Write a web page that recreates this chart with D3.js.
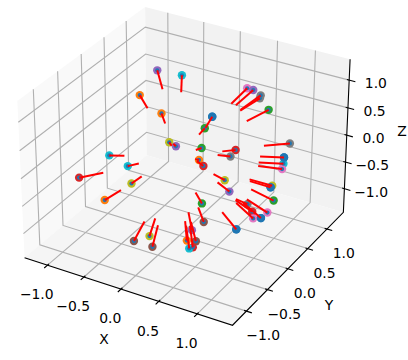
<!DOCTYPE html>
<html><head><meta charset="utf-8"><script src="https://cdn.jsdelivr.net/npm/d3@7"></script>
<style>body{margin:0;background:#fff}</style></head><body><div id="chart"></div>
<script>
// sphere points, with the inner end of each red segment
var xs=[-0.59,-0.32,-0.78,-0.04,-0.58,0.33,-0.15,0.49,-0.21,0.61,-0.11,0.40,0.47,0.57,0.57,0.71,1.07,1.07,1.09,1.10,0.23,0.84,0.24,0.93,1.07,1.06,1.15,1.14,0.83,0.98,1.10,1.02,0.90,-0.12,-0.69,0.73,0.38,-0.06,0.07,0.15,0.46,0.52,0.55,0.55,0.52,-0.42,-0.89,-0.54];
var ys=[0.50,0.61,0.41,-0.33,0.75,-0.64,1.04,-0.27,0.89,-0.61,0.76,0.89,0.91,0.91,0.89,0.85,0.71,0.57,0.52,0.47,0.94,-0.30,0.66,-0.48,0.29,0.27,0.18,0.05,0.14,-0.02,-0.03,-0.07,-0.25,-0.94,0.05,-0.75,-0.09,-0.93,-0.80,-0.87,-0.62,-0.61,-0.57,-0.64,-0.67,-0.85,-0.77,-0.78];
var zs=[1.03,0.97,0.57,0.99,-0.45,0.76,0.00,0.89,-0.51,0.61,-0.72,0.82,0.80,0.74,0.70,0.57,0.19,0.03,-0.04,-0.10,-0.41,0.55,-0.78,0.09,-0.29,-0.31,-0.45,-0.58,-0.62,-0.58,-0.64,-0.65,-0.77,0.44,-0.79,-0.01,-0.97,-0.89,-0.84,-0.95,-0.89,-0.68,-0.90,-0.96,-0.97,0.45,-0.19,-0.45];
var endX=[-0.46,-0.26,-0.54,-0.04,-0.44,0.19,-0.10,0.37,-0.17,0.47,-0.11,0.30,0.35,0.42,0.42,0.53,0.81,0.82,0.83,0.84,0.17,0.63,0.17,0.71,0.81,0.82,0.87,0.87,0.76,0.76,0.85,0.78,0.68,-0.11,-0.54,0.55,0.30,-0.05,0.04,0.10,0.35,0.40,0.41,0.42,0.38,-0.35,-0.68,-0.43];
var endY=[0.40,0.49,0.19,-0.25,0.57,-0.46,0.79,-0.19,0.68,-0.45,0.60,0.69,0.71,0.70,0.69,0.65,0.56,0.45,0.40,0.37,0.72,-0.22,0.51,-0.36,0.22,0.21,0.15,0.05,-0.01,-0.02,-0.00,-0.04,-0.19,-0.72,0.04,-0.58,-0.08,-0.71,-0.62,-0.66,-0.47,-0.48,-0.44,-0.48,-0.50,-0.64,-0.58,-0.60];
var endZ=[0.80,0.76,0.56,0.76,-0.34,0.63,-0.02,0.68,-0.39,0.46,-0.52,0.63,0.61,0.56,0.55,0.43,0.15,0.03,-0.04,-0.08,-0.31,0.44,-0.59,0.08,-0.23,-0.25,-0.34,-0.45,-0.45,-0.46,-0.49,-0.49,-0.59,0.34,-0.59,-0.01,-0.74,-0.69,-0.66,-0.73,-0.69,-0.50,-0.70,-0.74,-0.74,0.33,-0.15,-0.35];
// index into the tab10 cycle
var colorIndex=[4,9,1,1,8,4,0,2,2,1,3,6,4,7,7,2,7,0,9,6,3,7,8,4,8,0,2,6,7,3,0,6,0,9,8,2,5,5,8,5,1,4,5,3,9,9,3,1];
var tickValues=[-1,-0.5,0,0.5,1];
var tickLabels=["\u22121.0","\u22120.5","0.0","0.5","1.0"];

var xLim=[-1.32,1.45],yLim=[-1.32,1.44],zLim=[-1.45,1.37];
var boxW=1.1429,boxH=0.8572;
var cx=186.8,cy=158.8,pxScale=2085;
var azim=-60*Math.PI/180,elev=30*Math.PI/180;
var w=[Math.cos(elev)*Math.cos(azim),Math.cos(elev)*Math.sin(azim),Math.sin(elev)];
var u=[-Math.sin(azim),Math.cos(azim),0];
var v=[w[1]*u[2]-w[2]*u[1],w[2]*u[0]-w[0]*u[2],w[0]*u[1]-w[1]*u[0]];
var wx=d3.scaleLinear(xLim,[0,boxW]),wy=d3.scaleLinear(yLim,[0,boxW]),wz=d3.scaleLinear(zLim,[0,boxH]);
var sx=d3.scaleLinear([-0.1,0.1],[cx-pxScale/10,cx+pxScale/10]),sy=d3.scaleLinear([-0.1,0.1],[cy+pxScale/10,cy-pxScale/10]);
var color=d3.scaleOrdinal().domain(d3.range(10)).range(d3.schemeCategory10);
function dot(p,q){return p[0]*q[0]+p[1]*q[1]+p[2]*q[2]}
function proj(x,y,z){
  var d=[wx(x)-boxW/2-10*w[0],wy(y)-boxW/2-10*w[1],wz(z)-boxH/2-10*w[2]];
  var zv=-dot(d,w);
  return [sx(dot(d,u)/zv),sy(dot(d,v)/zv)];
}
var svg=d3.select("#chart").append("svg").attr("width",408).attr("height",360);
var line=d3.line();
function path3d(pts){return line(pts.map(function(p){return proj(p[0],p[1],p[2])}))}
function pane(pts,fill){svg.append("path").attr("d",path3d(pts)+"Z").attr("fill",fill)}
function seg(pts,col,lw){svg.append("path").attr("d",path3d(pts)).attr("fill","none").attr("stroke",col).attr("stroke-width",lw)}
var x0=xLim[0],x1=xLim[1],y0=yLim[0],y1=yLim[1],z0=zLim[0],z1=zLim[1];

// panes
pane([[x0,y0,z0],[x0,y1,z0],[x0,y1,z1],[x0,y0,z1]],"#f9f9f9");
pane([[x0,y1,z0],[x1,y1,z0],[x1,y1,z1],[x0,y1,z1]],"#f2f2f2");
pane([[x0,y0,z0],[x1,y0,z0],[x1,y1,z0],[x0,y1,z0]],"#f5f5f5");

// grid
tickValues.forEach(function(t){
  seg([[t,y0,z0],[t,y1,z0],[t,y1,z1]],"#b0b0b0",1.1);
  seg([[x0,t,z1],[x0,t,z0],[x1,t,z0]],"#b0b0b0",1.1);
  seg([[x0,y0,t],[x0,y1,t],[x1,y1,t]],"#b0b0b0",1.1);
});

// axis lines and ticks
seg([[x0,y0,z0],[x1,y0,z0],[x1,y1,z0],[x1,y1,z1]],"#000",1.1);
function label(p,dx,dy,txt){
  svg.append("text").attr("x",p[0]+dx).attr("y",p[1]+dy)
    .attr("text-anchor","middle").attr("dominant-baseline","central")
    .attr("font-family","DejaVu Sans").attr("font-size","13.9px").attr("fill","#000").text(txt);
}
tickValues.forEach(function(t,i){
  seg([[t,y0-0.07,z0],[t,y0+0.03,z0]],"#000",1.1);
  seg([[x1+0.07,t,z0],[x1-0.03,t,z0]],"#000",1.1);
  seg([[x1-0.03,y1,t],[x1+0.08,y1,t]],"#000",1.1);
  label(proj(t,y0,z0),-10.8,29.3,tickLabels[i]);
  label(proj(x1,t,z0),16.8,24.3,tickLabels[i]);
  label(proj(x1,y1,t),26.7,2.8,tickLabels[i]);
});
label([104,339.3],0,0,"X");
label([329,305.3],0,0,"Y");
label([402,130.7],0,0,"Z");

// coloured points, blue markers on top, then the red segments
var idx=d3.range(xs.length);
svg.append("g").selectAll("circle").data(idx).enter().append("circle")
  .attr("cx",function(i){return proj(xs[i],ys[i],zs[i])[0]})
  .attr("cy",function(i){return proj(xs[i],ys[i],zs[i])[1]})
  .attr("r",4.2).attr("fill",function(i){return color(colorIndex[i])});
svg.append("g").selectAll("circle").data(idx).enter().append("circle")
  .attr("cx",function(i){return proj(xs[i],ys[i],zs[i])[0]})
  .attr("cy",function(i){return proj(xs[i],ys[i],zs[i])[1]})
  .attr("r",function(i){return colorIndex[i]==0?4.2:2.1}).attr("fill",color(0));
svg.append("g").selectAll("path").data(idx).enter().append("path")
  .attr("d",function(i){return path3d([[xs[i],ys[i],zs[i]],[endX[i],endY[i],endZ[i]]])})
  .attr("stroke","#ff0000").attr("stroke-width",2).attr("fill","none");
</script></body></html>
